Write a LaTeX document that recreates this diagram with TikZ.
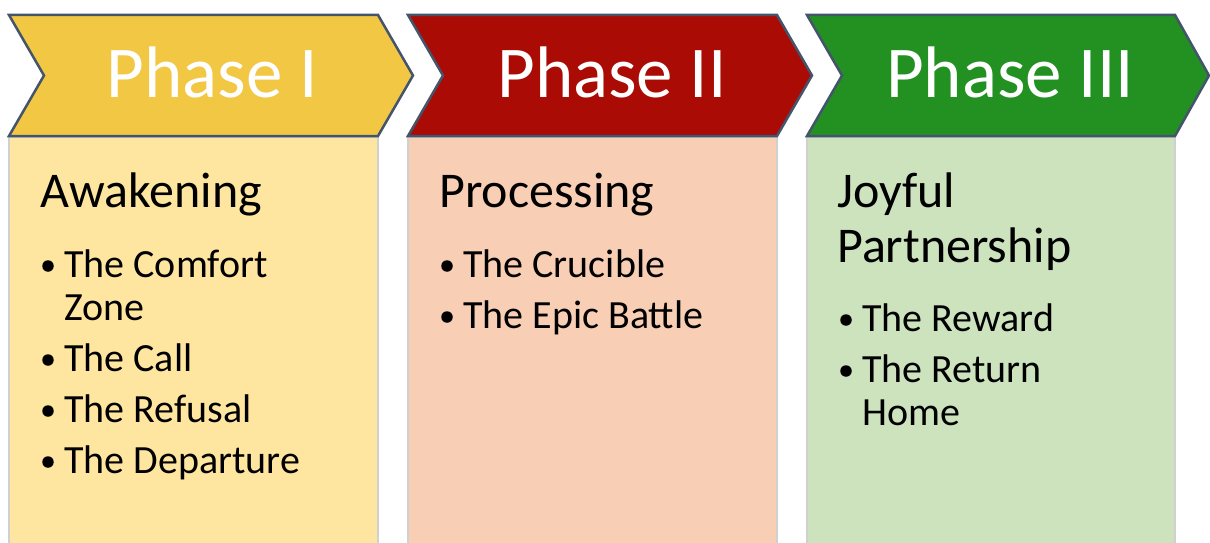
\documentclass[tikz,border=0pt]{standalone}
\usepackage{fontspec}
\setmainfont{Carlito}
\definecolor{chevA}{HTML}{F2C744}
\definecolor{chevB}{HTML}{AA0B05}
\definecolor{chevC}{HTML}{229122}
\definecolor{boxA}{HTML}{FFE6A0}
\definecolor{boxB}{HTML}{F8CFB4}
\definecolor{boxC}{HTML}{CCE3BE}
\definecolor{outl}{HTML}{44546A}
\definecolor{boxline}{HTML}{D0D0D0}
\tikzset{
  chev/.style={draw=outl, line width=2.5pt, line join=miter},
  panel/.style={draw=boxline, line width=2pt},
  phase/.style={font=\fontsize{73}{86}\selectfont, text=white, inner sep=0pt, anchor=base},
  head/.style={font=\fontsize{50}{60}\selectfont, anchor=base west, inner sep=0pt},
  item/.style={font=\fontsize{40}{48}\selectfont, anchor=base west, inner sep=0pt},
  dot/.style={circle, fill=black, draw=none, inner sep=0pt, minimum size=11.5pt},
}
\begin{document}
\begin{tikzpicture}[x=1pt,y=-1pt]
\useasboundingbox (0,0) rectangle (1210,543);
\clip (0,0) rectangle (1210,543);
% panels
\draw[panel, fill=boxA] (9,137) rectangle (378,560);
\draw[panel, fill=boxB] (408,137) rectangle (777,560);
\draw[panel, fill=boxC] (807,137) rectangle (1175,560);
% chevrons
\draw[chev, fill=chevA] (9,15) -- (378,15) -- (413,75.5) -- (378,136) -- (9,136) -- (44,75.5) -- cycle;
\draw[chev, fill=chevB] (408,15) -- (777,15) -- (812,75.5) -- (777,136) -- (408,136) -- (443,75.5) -- cycle;
\draw[chev, fill=chevC] (807,15) -- (1175,15) -- (1209,75.5) -- (1175,136) -- (807,136) -- (842,75.5) -- cycle;
% phase labels
\node[phase] (p1) at (212,97) {Phase I};
\node[phase] (p2) at (612,97) {Phase II};
\node[phase] (p3) at (1010,97) {Phase III};
% panel 1
\node[head] (h1) at (40,207) {Awakening};
\node[dot] (b1a) at (48,266) {};
\node[item] (t1a) at (64,277) {The Comfort};
\node[item] (t1b) at (64,320) {Zone};
\node[dot] (b1c) at (48,360) {};
\node[item] (t1c) at (64,371) {The Call};
\node[dot] (b1d) at (48,411) {};
\node[item] (t1d) at (64,422) {The Refusal};
\node[dot] (b1e) at (48,462) {};
\node[item] (t1e) at (64,473) {The Departure};
% panel 2
\node[head] (h2) at (439,207) {Processing};
\node[dot] (b2a) at (447,266) {};
\node[item] (t2a) at (463,277) {The Crucible};
\node[dot] (b2b) at (447,317) {};
\node[item] (t2b) at (463,328) {The Epic Battle};
% panel 3
\node[head] (h3a) at (837,207) {Joyful};
\node[head] (h3b) at (837,262) {Partnership};
\node[dot] (b3a) at (846,320) {};
\node[item] (t3a) at (862,331) {The Reward};
\node[dot] (b3b) at (846,371) {};
\node[item] (t3b) at (862,382) {The Return};
\node[item] (t3c) at (862,425) {Home};
\end{tikzpicture}
\end{document}
